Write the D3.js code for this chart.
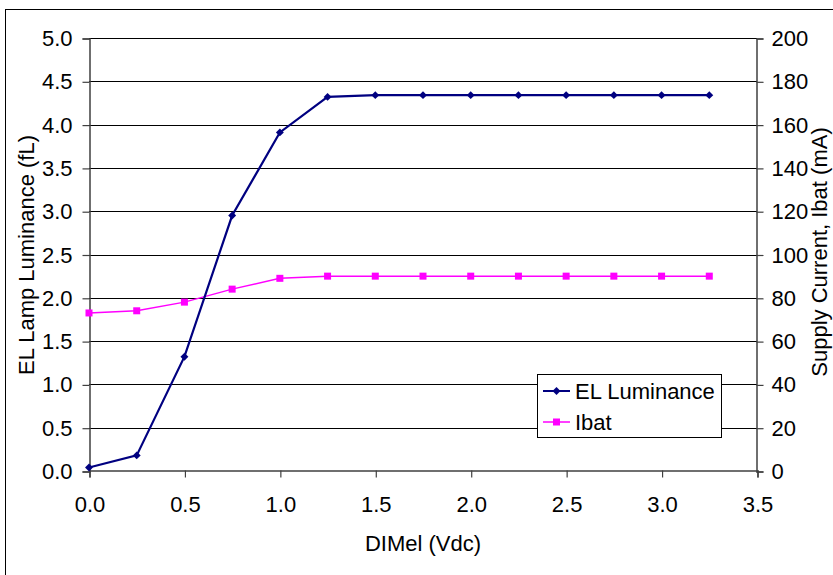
<!DOCTYPE html>
<html>
<head>
<meta charset="utf-8">
<script src="https://cdn.jsdelivr.net/npm/d3@7"></script>
<style>
  html, body { margin: 0; padding: 0; background: #fff; }
  svg { display: block; font-family: "Liberation Sans", Arial, sans-serif; }
</style>
</head>
<body>
<svg id="chart" width="833" height="575"></svg>
<script>
// DIMel control voltage (Vdc)
const dimVolts = [0, 0.25, 0.5, 0.75, 1.0, 1.25, 1.5, 1.75, 2.0, 2.25, 2.5, 2.75, 3.0, 3.25];
// EL lamp luminance (fL)
const luminance = [0.04, 0.18, 1.32, 2.95, 3.91, 4.32, 4.34, 4.34, 4.34, 4.34, 4.34, 4.34, 4.34, 4.34];
// Supply current Ibat (mA)
const ibat = [73, 74, 78, 84, 89, 90, 90, 90, 90, 90, 90, 90, 90, 90];

const xTicks = [0, 0.5, 1.0, 1.5, 2.0, 2.5, 3.0, 3.5];
const yLeftTicks = [0, 0.5, 1.0, 1.5, 2.0, 2.5, 3.0, 3.5, 4.0, 4.5, 5.0];
const yRightTicks = [0, 20, 40, 60, 80, 100, 120, 140, 160, 180, 200];

const svg = d3.select("#chart");
const plot = { left: 89, right: 757, top: 38, bottom: 471 };

const x = d3.scaleLinear().domain([0, 3.5]).range([plot.left, plot.right]);
const yL = d3.scaleLinear().domain([0, 5]).range([plot.bottom, plot.top]);
const yR = d3.scaleLinear().domain([0, 200]).range([plot.bottom, plot.top]);

// outer chart frame
svg.append("rect")
  .attr("x", 5.5).attr("y", 9.5)
  .attr("width", 900).attr("height", 900)
  .attr("fill", "none").attr("stroke", "#000").attr("stroke-width", 1);

// horizontal gridlines
svg.append("g")
  .selectAll("line")
  .data(yLeftTicks.filter(d => d > 0))
  .join("line")
  .attr("x1", plot.left).attr("x2", plot.right)
  .attr("y1", d => Math.round(yL(d)) + 0.5)
  .attr("y2", d => Math.round(yL(d)) + 0.5)
  .attr("stroke", "#000").attr("stroke-width", 1);

const fontSize = 22;

// left axis
const leftAxis = svg.append("g")
  .attr("transform", `translate(${plot.left + 0.5},0.5)`)
  .call(d3.axisLeft(yL).tickValues(yLeftTicks).tickFormat(d3.format(".1f")).tickSizeOuter(0).tickSize(7).tickPadding(10));

// right axis
const rightAxis = svg.append("g")
  .attr("transform", `translate(${plot.right - 0.5},0.5)`)
  .call(d3.axisRight(yR).tickValues(yRightTicks).tickFormat(d3.format("d")).tickSizeOuter(0).tickSize(7).tickPadding(8));

// bottom axis
const bottomAxis = svg.append("g")
  .attr("transform", `translate(0.5,${plot.bottom - 0.5})`)
  .call(d3.axisBottom(x).tickValues(xTicks).tickFormat(d3.format(".1f")).tickSizeOuter(0).tickSize(7).tickPadding(19));

[leftAxis, rightAxis, bottomAxis].forEach(g => {
  g.select(".domain").attr("stroke", "#404040").attr("stroke-width", 1.5);
  g.selectAll(".tick line").attr("stroke", "#404040").attr("stroke-width", 1.2);
  g.selectAll(".tick text")
    .attr("font-family", "'Liberation Sans', Arial, sans-serif")
    .attr("font-size", fontSize).attr("fill", "#000");
});

// axis titles
svg.append("text")
  .attr("x", x(1.75)).attr("y", 551)
  .attr("text-anchor", "middle")
  .attr("font-size", fontSize)
  .text("DIMel (Vdc)");

svg.append("text")
  .attr("transform", `translate(34,255) rotate(-90)`)
  .attr("text-anchor", "middle")
  .attr("font-size", fontSize)
  .text("EL Lamp Luminance (fL)");

svg.append("text")
  .attr("transform", `translate(827,252) rotate(-90)`)
  .attr("text-anchor", "middle")
  .attr("font-size", fontSize)
  .text("Supply Current, Ibat (mA)");

// series
const navy = "#000080";
const magenta = "#FF00FF";

const lumLine = d3.line().x((d, i) => x(dimVolts[i])).y(d => yL(d));
const ibatLine = d3.line().x((d, i) => x(dimVolts[i])).y(d => yR(d));

svg.append("path")
  .datum(ibat)
  .attr("d", ibatLine)
  .attr("fill", "none").attr("stroke", magenta).attr("stroke-width", 1.5);

svg.append("g").selectAll("rect")
  .data(ibat)
  .join("rect")
  .attr("x", (d, i) => x(dimVolts[i]) - 3.5)
  .attr("y", d => yR(d) - 3.5)
  .attr("width", 7).attr("height", 7)
  .attr("fill", magenta);

svg.append("path")
  .datum(luminance)
  .attr("d", lumLine)
  .attr("fill", "none").attr("stroke", navy).attr("stroke-width", 2.2);

const diamond = d3.symbol().type(d3.symbolDiamond2).size(40);
svg.append("g").selectAll("path")
  .data(luminance)
  .join("path")
  .attr("d", diamond)
  .attr("transform", (d, i) => `translate(${x(dimVolts[i])},${yL(d)})`)
  .attr("fill", navy);

// legend
const legend = svg.append("g");
legend.append("rect")
  .attr("x", 537.5).attr("y", 374.5)
  .attr("width", 184).attr("height", 63)
  .attr("fill", "#fff").attr("stroke", "#000").attr("stroke-width", 1);

const legendItems = [
  { label: "EL Luminance", color: navy, y: 391, kind: "diamond", width: 2 },
  { label: "Ibat", color: magenta, y: 422, kind: "square", width: 1.5 }
];

legendItems.forEach(it => {
  legend.append("line")
    .attr("x1", 543).attr("x2", 570)
    .attr("y1", it.y).attr("y2", it.y)
    .attr("stroke", it.color).attr("stroke-width", it.width);
  if (it.kind === "diamond") {
    legend.append("path")
      .attr("d", diamond)
      .attr("transform", `translate(556.5,${it.y})`)
      .attr("fill", it.color);
  } else {
    legend.append("rect")
      .attr("x", 553).attr("y", it.y - 3.5)
      .attr("width", 7).attr("height", 7)
      .attr("fill", it.color);
  }
  legend.append("text")
    .attr("x", 575).attr("y", it.y + 8)
    .attr("font-size", fontSize)
    .text(it.label);
});
</script>
</body>
</html>
